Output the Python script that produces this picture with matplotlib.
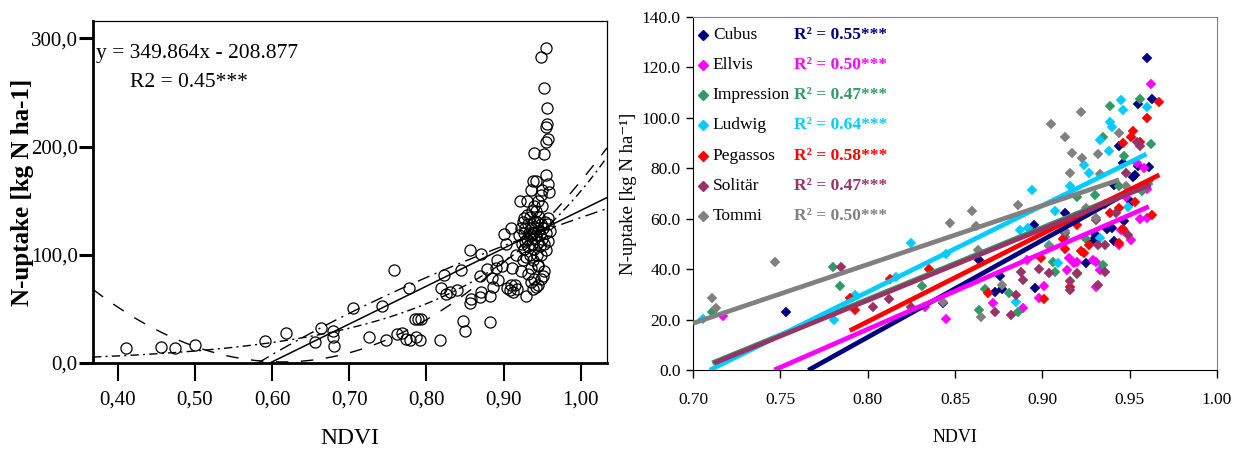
import numpy as np
import matplotlib
matplotlib.use("Agg")
import matplotlib.pyplot as plt

plt.rcParams['font.family'] = ['Liberation Serif', 'DejaVu Serif']

# ---------------- Left panel data ----------------
left_ndvi = [0.411, 0.456, 0.474, 0.500, 0.591, 0.618, 0.655, 0.664, 0.679, 0.679, 0.680,
             0.705, 0.726, 0.743, 0.747, 0.758, 0.762, 0.768, 0.773, 0.777, 0.779, 0.785,
             0.789, 0.793, 0.786, 0.792, 0.817, 0.819, 0.823, 0.826, 0.830, 0.840, 0.845,
             0.847, 0.850, 0.856, 0.858, 0.856, 0.871, 0.869, 0.871, 0.882, 0.882, 0.886,
             0.869, 0.878, 0.885, 0.890, 0.892, 0.893, 0.901, 0.903, 0.909, 0.905, 0.908,
             0.910, 0.912, 0.898, 0.911, 0.916, 0.921, 0.926, 0.928, 0.929, 0.930, 0.939,
             0.942, 0.949, 0.955, 0.952, 0.956, 0.955, 0.956, 0.955, 0.957, 0.953, 0.955,
             0.950, 0.957, 0.959, 0.942, 0.949, 0.944, 0.957, 0.957, 0.955,
             0.920, 0.922, 0.924, 0.925, 0.926, 0.927, 0.928, 0.929, 0.930, 0.931, 0.932,
             0.933, 0.934, 0.934, 0.935, 0.936, 0.937, 0.937, 0.938, 0.938, 0.939, 0.940,
             0.940, 0.941, 0.942, 0.942, 0.943, 0.943, 0.944, 0.945, 0.945, 0.946, 0.947,
             0.947, 0.948, 0.949, 0.950, 0.950, 0.951, 0.952, 0.953, 0.954, 0.955, 0.958,
             0.960, 0.915, 0.918, 0.932, 0.936, 0.940, 0.945, 0.951, 0.938, 0.935, 0.925,
             0.922, 0.948, 0.944, 0.935, 0.938, 0.930, 0.940]
left_n = [14, 15, 14, 17, 20, 28, 19, 32, 30, 24, 16,
          51, 24, 53, 21, 86, 27, 28, 22, 69, 21, 41,
          41, 41, 24, 21, 21, 69, 81, 64, 66, 67, 86,
          39, 30, 55, 59, 104, 101, 61, 66, 38, 62, 70,
          80, 87, 79, 88, 95, 77, 119, 110, 125, 69, 67,
          72, 66, 90, 88, 100, 150, 134, 113, 62, 137, 194,
          168, 283, 291, 254, 236, 218, 221, 204, 207, 193, 174,
          160, 165, 158, 70, 78, 91, 113, 134, 104,
          118, 125, 110, 130, 120, 105, 125, 98, 115, 128, 108,
          120, 135, 100, 118, 125, 110, 140, 95, 120, 130, 115,
          105, 125, 118, 140, 100, 130, 112, 122, 90, 135, 108,
          118, 128, 100, 115, 145, 125, 85, 110, 130, 120, 128,
          122, 72, 68, 82, 88, 78, 72, 80, 68, 75, 95,
          85, 155, 150, 160, 168, 150, 145]

lin_coef = [349.864, -208.877]           # y = a*x + b
quad_coef = [1116.0, -1368.3, 420.4]     # quadratic fit
exp_coef = [0.777, 5.32]                 # y = a*exp(b*x)
log_coef = [134.4, 248.0]                # y = a + b*ln(x)

left_xticks = [0.40, 0.50, 0.60, 0.70, 0.80, 0.90, 1.00]
left_xticklabels = ['0,40', '0,50', '0,60', '0,70', '0,80', '0,90', '1,00']
left_yticks = [0, 100, 200, 300]
left_yticklabels = ['0,0', '100,0', '200,0', '300,0']

# ---------------- Right panel data ----------------
varieties = ['Cubus', 'Ellvis', 'Impression', 'Ludwig', 'Pegassos', 'Solitär', 'Tommi']
colors = ['#000080', '#FF00FF', '#339966', '#00CCFF', '#FF0000', '#993366', '#808080']
r2_values = ['0.55', '0.50', '0.47', '0.64', '0.58', '0.47', '0.50']

cubus_x = [0.753, 0.843, 0.864, 0.873, 0.876, 0.877, 0.895, 0.896, 0.913, 0.925, 0.929, 0.931, 0.937,
           0.941, 0.940, 0.941, 0.944, 0.946, 0.947, 0.951, 0.952, 0.953, 0.955, 0.955, 0.960, 0.961, 0.963]
cubus_y = [23.2, 26.7, 43.7, 31.1, 37.1, 32.0, 57.6, 32.5, 62.1, 42.3, 51.6, 53.6, 56.0,
           51.3, 56.2, 73.4, 88.7, 82.0, 59.2, 66.8, 76.7, 77.4, 105.6, 81.0, 123.7, 80.7, 107.4]
ellvis_x = [0.717, 0.833, 0.845, 0.872, 0.889, 0.891, 0.898, 0.901, 0.914, 0.915, 0.918, 0.920, 0.929,
            0.931, 0.931, 0.933, 0.944, 0.945, 0.947, 0.951, 0.948, 0.954, 0.956, 0.958, 0.960, 0.960, 0.962]
ellvis_y = [21.4, 25.1, 20.1, 26.7, 24.5, 43.7, 28.5, 33.5, 39.7, 44.3, 42.3, 43.0, 43.7,
            43.0, 33.0, 39.7, 49.6, 55.6, 55.0, 51.6, 68.8, 82.0, 59.8, 80.0, 71.7, 60.2, 113.5]
impression_x = [0.711, 0.780, 0.784, 0.831, 0.864, 0.867, 0.881, 0.886, 0.906, 0.907, 0.913, 0.920,
                0.920, 0.925, 0.930, 0.935, 0.935, 0.939, 0.944, 0.947, 0.956, 0.957, 0.962]
impression_y = [23.2, 41.0, 33.3, 33.3, 23.8, 32.0, 30.4, 23.2, 43.0, 39.0, 52.9, 68.8,
                38.1, 51.9, 69.5, 41.7, 92.4, 104.8, 72.8, 84.7, 107.4, 70.8, 89.7]
ludwig_x = [0.7056, 0.781, 0.793, 0.816, 0.825, 0.845, 0.885, 0.887, 0.894, 0.892, 0.907, 0.904, 0.909,
            0.916, 0.924, 0.927, 0.933, 0.933, 0.939, 0.940, 0.938, 0.945, 0.946, 0.949, 0.960]
ludwig_y = [20.1, 19.8, 29.8, 37.0, 50.5, 46.0, 27.1, 55.6, 71.2, 56.2, 62.9, 49.6, 42.3,
            72.8, 81.4, 78.1, 91.3, 52.3, 98.2, 96.3, 86.7, 106.9, 103.2, 64.6, 104.3]
pegassos_x = [0.790, 0.793, 0.813, 0.835, 0.869, 0.901, 0.899, 0.912, 0.913, 0.916, 0.920, 0.922, 0.924,
              0.927, 0.939, 0.944, 0.944, 0.946, 0.946, 0.951, 0.952, 0.953, 0.956, 0.960, 0.963, 0.967]
pegassos_y = [28.7, 23.6, 36.0, 40.0, 30.4, 28.0, 44.3, 51.9, 47.9, 32.8, 57.6, 47.0, 46.3,
              49.6, 62.2, 64.2, 50.3, 90.2, 55.8, 92.6, 94.6, 66.8, 90.6, 99.9, 61.5, 106.3]
solitar_x = [0.785, 0.803, 0.812, 0.825, 0.873, 0.882, 0.885, 0.888, 0.889, 0.898, 0.904, 0.913, 0.916,
             0.916, 0.920, 0.931, 0.932, 0.932, 0.936, 0.936, 0.936, 0.942, 0.948, 0.949, 0.954, 0.956]
solitar_y = [41.0, 25.1, 28.0, 24.9, 23.2, 21.8, 29.8, 39.0, 35.7, 40.0, 38.6, 54.5, 35.1,
             31.8, 38.4, 59.5, 49.4, 33.7, 49.4, 38.8, 65.9, 62.2, 78.1, 53.6, 90.6, 88.7]
tommi_x = [0.711, 0.713, 0.747, 0.843, 0.847, 0.860, 0.862, 0.863, 0.865, 0.877, 0.886, 0.905, 0.904,
           0.913, 0.913, 0.916, 0.917, 0.922, 0.923, 0.925, 0.931, 0.932, 0.933, 0.944, 0.948, 0.957]
tommi_y = [28.7, 24.5, 43.0, 27.1, 58.2, 62.9, 57.2, 47.4, 21.2, 33.7, 65.5, 97.5, 49.0,
           92.4, 55.0, 78.1, 86.0, 102.2, 84.0, 64.2, 60.2, 85.7, 77.8, 94.0, 72.8, 72.1]

series_x = [cubus_x, ellvis_x, impression_x, ludwig_x, pegassos_x, solitar_x, tommi_x]
series_y = [cubus_y, ellvis_y, impression_y, ludwig_y, pegassos_y, solitar_y, tommi_y]

fit_slope = [385.0, 302.2, 284.0, 342.8, 348.5, 283.0, 233.2]
fit_intercept = [-295.0, -225.6, -199.1, -243.3, -259.6, -198.8, -144.7]
fit_from = [0.766, 0.7466, 0.711, 0.7096, 0.7897, 0.712, 0.700]
fit_to = [0.963, 0.961, 0.963, 0.9596, 0.967, 0.962, 0.944]

right_xticks = [0.70, 0.75, 0.80, 0.85, 0.90, 0.95, 1.00]
right_yticks = [0, 20, 40, 60, 80, 100, 120, 140]

# ---------------- Figure ----------------
fig = plt.figure(figsize=(12.34, 4.51), dpi=100)

# Left panel
axL = fig.add_axes([0.0754, 0.1951, 0.4165, 0.7583])
axL.set_xlim(0.368, 1.034)
axL.set_ylim(0, 316)
axL.plot(left_ndvi, left_n, linestyle='none', marker='o', ms=8, mfc='none',
         mec='black', mew=0.9, zorder=2)

xs = np.linspace(0.368, 1.034, 400)
y_lin = np.polyval(lin_coef, xs)
axL.plot(xs[y_lin >= 0], y_lin[y_lin >= 0], color='black', lw=1.1, zorder=3)
y_quad = np.polyval(quad_coef, xs)
axL.plot(xs, y_quad, color='black', lw=1.0, linestyle=(0, (9, 9)), zorder=3)
y_exp = exp_coef[0] * np.exp(exp_coef[1] * xs)
axL.plot(xs, y_exp, color='black', lw=1.0, linestyle=(0, (6, 3, 1.5, 3)), zorder=3)
y_log = log_coef[0] + log_coef[1] * np.log(xs)
axL.plot(xs[y_log >= 0], y_log[y_log >= 0], color='black', lw=1.0,
         linestyle=(0, (9, 4, 1.5, 4)), zorder=3)

axL.set_xticks(left_xticks)
axL.set_xticklabels(left_xticklabels, fontsize=15)
axL.set_yticks(left_yticks)
axL.set_yticklabels(left_yticklabels, fontsize=15)
axL.tick_params(axis='y', direction='out', length=10, width=2.2, pad=1)
axL.tick_params(axis='x', direction='out', length=13, width=1.5, pad=7)
for s in ['left', 'bottom']:
    axL.spines[s].set_linewidth(2.0)
for s in ['top', 'right']:
    axL.spines[s].set_linewidth(0.9)
axL.set_ylabel('N-uptake [kg N ha-1]', fontsize=18, fontweight='bold')
axL.yaxis.set_label_coords(-0.115, 0.5)
axL.set_xlabel('NDVI', fontsize=17)
axL.xaxis.set_label_coords(0.5, -0.19)
axL.text(0.372, 286, 'y = 349.864x - 208.877', fontsize=15.5, ha='left', va='center')
axL.text(0.416, 259, 'R2 = 0.45***', fontsize=15.5, ha='left', va='center')

# Right panel
axR = fig.add_axes([0.5616, 0.1796, 0.4246, 0.7827])
axR.set_xlim(0.70, 1.00)
axR.set_ylim(0, 140)
for xv, yv, c in zip(series_x, series_y, colors):
    axR.plot(xv, yv, linestyle='none', marker='D', ms=5.2, mfc=c, mec=c, mew=0.3,
             zorder=2, clip_on=False)
for sl, ic, x0, x1, c in zip(fit_slope, fit_intercept, fit_from, fit_to, colors):
    xx = np.array([x0, x1])
    axR.plot(xx, sl * xx + ic, color=c, lw=3.4, solid_capstyle='butt', zorder=3)

# legend-like annotations
leg_y = [133, 121, 109, 97, 85, 73, 61]
for name, c, r2, yy in zip(varieties, colors, r2_values, leg_y):
    axR.plot([0.7059], [yy], linestyle='none', marker='D', ms=5.2, mfc=c, mec=c, zorder=4)
    axR.text(0.7113, yy, name, fontsize=12.5, ha='left', va='center', color='black')
    axR.text(0.7580, yy, 'R² = ' + r2 + '***', fontsize=12.5, ha='left', va='center',
             color=c, fontweight='bold')

axR.set_xticks(right_xticks)
axR.set_xticklabels(['%.2f' % v for v in right_xticks], fontsize=12.5)
axR.set_yticks(right_yticks)
axR.set_yticklabels(['%.1f' % v for v in right_yticks], fontsize=12.5)
axR.tick_params(axis='y', direction='out', length=5, width=1.0, pad=4)
axR.tick_params(axis='x', direction='out', length=6, width=1.0, pad=10)
axR.spines['left'].set_color('black')
axR.spines['bottom'].set_color('black')
axR.spines['top'].set_color('#808080')
axR.spines['right'].set_color('#808080')
axR.set_ylabel('N-uptake [kg N ha⁻¹]', fontsize=13.5)
axR.yaxis.set_label_coords(-0.107, 0.5)
axR.set_xlabel('NDVI', fontsize=13)
axR.xaxis.set_label_coords(0.5, -0.168)

fig.savefig('out.png', dpi=100)
